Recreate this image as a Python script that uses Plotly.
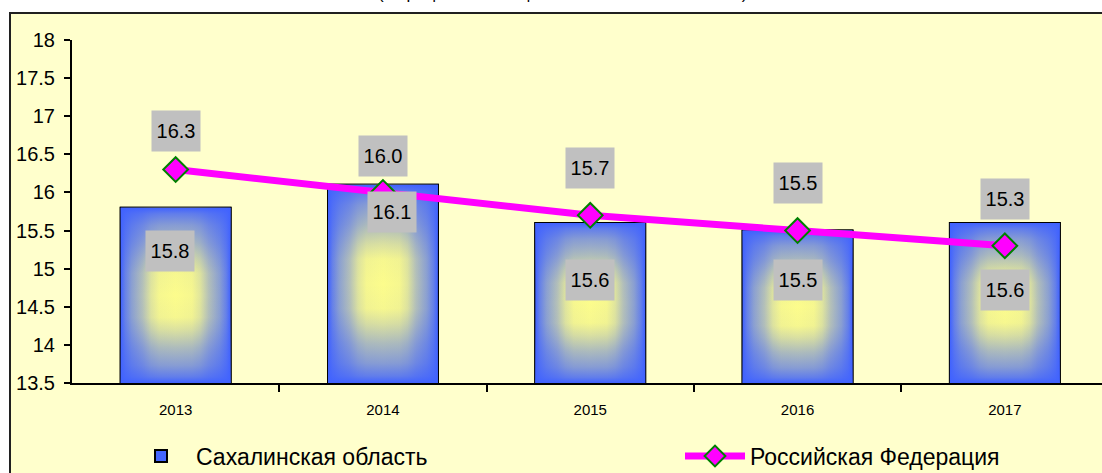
import plotly.graph_objects as go

years = ["2013", "2014", "2015", "2016", "2017"]
sakhalin = [15.8, 16.1, 15.6, 15.5, 15.6]
russia = [16.3, 16.0, 15.7, 15.5, 15.3]
y_ticks = [13.5, 14, 14.5, 15, 15.5, 16, 16.5, 17, 17.5, 18]
title_text = "(в процентах к общей численности населения)"
name_bar = "Сахалинская область"
name_line = "Российская Федерация"

# label offsets in pixels (style)
bar_lbl_dy = [-43, -27, -57, -49, -67]
bar_lbl_dx = [-6, 9, 0, 0, 0]
line_lbl_dy = [39, 36, 47, 48, 47]

FONT = "Liberation Sans, Arial, sans-serif"
BAR_W = 0.53
xs = list(range(len(years)))
Y0 = 13.5

YELLOW = (252, 252, 140)
BLUE = (64, 98, 255)
# profile: distance from centre (0..1) -> blue fraction
PROFILE_H = [(0.0, 0.0), (0.3, 0.03), (0.45, 0.15), (0.6, 0.38), (0.8, 0.6),
             (0.92, 0.8), (1.0, 1.0)]
PROFILE_V = [(0.0, 0.0), (0.25, 0.03), (0.4, 0.18), (0.6, 0.42), (0.8, 0.62),
             (0.93, 0.82), (1.0, 1.0)]


def lerp(p):
    return "rgb(%d,%d,%d)" % tuple(round(a + (b - a) * p) for a, b in zip(YELLOW, BLUE))


def sym_scale(profile, fn):
    stops = {}
    for t, p in profile:
        stops[round(0.5 - t / 2, 4)] = fn(p)
        stops[round(0.5 + t / 2, 4)] = fn(p)
    return [[k, stops[k]] for k in sorted(stops)]


h_scale = sym_scale(PROFILE_H, lerp)
v_scale = sym_scale(PROFILE_V, lambda p: "rgba(%d,%d,%d,%.3f)" % (*BLUE, p))

fig = go.Figure()

fig.add_trace(go.Bar(
    x=xs, y=[v - Y0 for v in sakhalin], base=Y0, width=BAR_W, name=name_bar,
    marker=dict(color="#4466FF", line=dict(color="black", width=2)),
    hoverinfo="skip", legend="legend",
))

for x, v in zip(xs, sakhalin):
    x0, x1 = x - BAR_W / 2, x + BAR_W / 2
    rx = [x0, x1, x1, x0, x0]
    ry = [Y0, Y0, v, v, Y0]
    fig.add_trace(go.Scatter(
        x=rx, y=ry, mode="lines", fill="toself", line=dict(width=0),
        showlegend=False, hoverinfo="skip",
        fillgradient=dict(type="horizontal", colorscale=h_scale)))
    fig.add_trace(go.Scatter(
        x=rx, y=ry, mode="lines", fill="toself", line=dict(width=0),
        showlegend=False, hoverinfo="skip",
        fillgradient=dict(type="vertical", colorscale=v_scale)))

# outline on top
fig.add_trace(go.Bar(
    x=xs, y=[v - Y0 for v in sakhalin], base=Y0, width=BAR_W, showlegend=False,
    marker=dict(color="rgba(0,0,0,0)", line=dict(color="black", width=2)),
    hoverinfo="skip",
))

fig.add_trace(go.Scatter(
    x=xs, y=russia, mode="lines+markers", name=name_line,
    line=dict(color="#FF00FF", width=7),
    marker=dict(symbol="diamond", size=19, color="#FF00FF",
                line=dict(color="#008000", width=2)),
    hoverinfo="skip", legend="legend2",
))

lbl_font = dict(family=FONT, size=20, color="black")
ann = []
for i, (x, v) in enumerate(zip(xs, sakhalin)):
    ann.append(dict(x=x, y=v, xref="x", yref="y", text=f"{v:.1f}", showarrow=False,
                    yshift=bar_lbl_dy[i], xshift=bar_lbl_dx[i], bgcolor="#C0C0C0",
                    width=46, height=38, borderpad=1, font=lbl_font))
for i, (x, v) in enumerate(zip(xs, russia)):
    ann.append(dict(x=x, y=v, xref="x", yref="y", text=f"{v:.1f}", showarrow=False,
                    yshift=line_lbl_dy[i], bgcolor="#C0C0C0",
                    width=46, height=38, borderpad=1, font=lbl_font))
ann.append(dict(x=(562 - 72) / 1030, y=1 + 35 / 343, xref="paper", yref="paper",
                yanchor="bottom", text=title_text, showarrow=False,
                font=dict(family=FONT, size=17, color="black")))

plot_w = 1030
x_right = -0.5 + plot_w / 207.3

shapes = [dict(type="rect", xref="paper", yref="paper", layer="below",
               x0=-62 / plot_w, x1=1.2, y0=-0.5, y1=1 + 27 / 343,
               fillcolor="#FFFFCC", line=dict(color="#202020", width=2))]

leg_common = dict(orientation="h", yanchor="middle", y=-(456 - 383) / 343,
                  xanchor="left", itemwidth=60,
                  font=dict(family=FONT, size=23, color="black"),
                  bgcolor="rgba(0,0,0,0)")

boundaries = [x + 0.5 for x in xs]

fig.update_layout(
    width=1102, height=473,
    margin=dict(l=72, r=0, t=40, b=90, autoexpand=False),
    paper_bgcolor="white", plot_bgcolor="#FFFFCC",
    font=dict(family=FONT, color="black"),
    shapes=shapes, annotations=ann,
    showlegend=True,
    legend=dict(x=(126 - 72) / plot_w, **leg_common),
    legend2=dict(x=(680 - 72) / plot_w, **leg_common),
    xaxis=dict(range=[-0.5, x_right], tickvals=xs, ticktext=years, ticklen=0,
               showline=True, linecolor="black", linewidth=2, showgrid=False,
               zeroline=False, tickfont=dict(family=FONT, size=15),
               ticklabelstandoff=12, automargin=False,
               minor=dict(tickvals=boundaries, ticks="outside",
                          ticklen=7, tickcolor="black", tickwidth=2, showgrid=False)),
    xaxis2=dict(range=[-0.5, x_right], overlaying="x", anchor="y", side="bottom",
                tickvals=boundaries, ticks="inside", ticklen=5, tickwidth=2,
                tickcolor="black", showticklabels=False, showgrid=False,
                zeroline=False, showline=False, automargin=False),
    yaxis=dict(range=[13.5, 18], tickvals=y_ticks,
               ticktext=[f"{t:g}" for t in y_ticks], ticks="outside",
               ticklen=6, tickwidth=2, tickcolor="black",
               showline=True, linecolor="black", linewidth=2, showgrid=False,
               zeroline=False, tickfont=dict(family=FONT, size=20),
               ticklabelstandoff=5, automargin=False),
    yaxis2=dict(range=[13.5, 18], overlaying="y", anchor="x", side="left",
                tickvals=y_ticks, ticks="inside", ticklen=6, tickwidth=2,
                tickcolor="black", showticklabels=False, showgrid=False,
                zeroline=False, showline=False, automargin=False),
    barmode="overlay",
)

fig.write_html("out.html", config={"displayModeBar": False},
               post_script="document.body.style.margin='0';document.body.style.overflow='hidden';")
